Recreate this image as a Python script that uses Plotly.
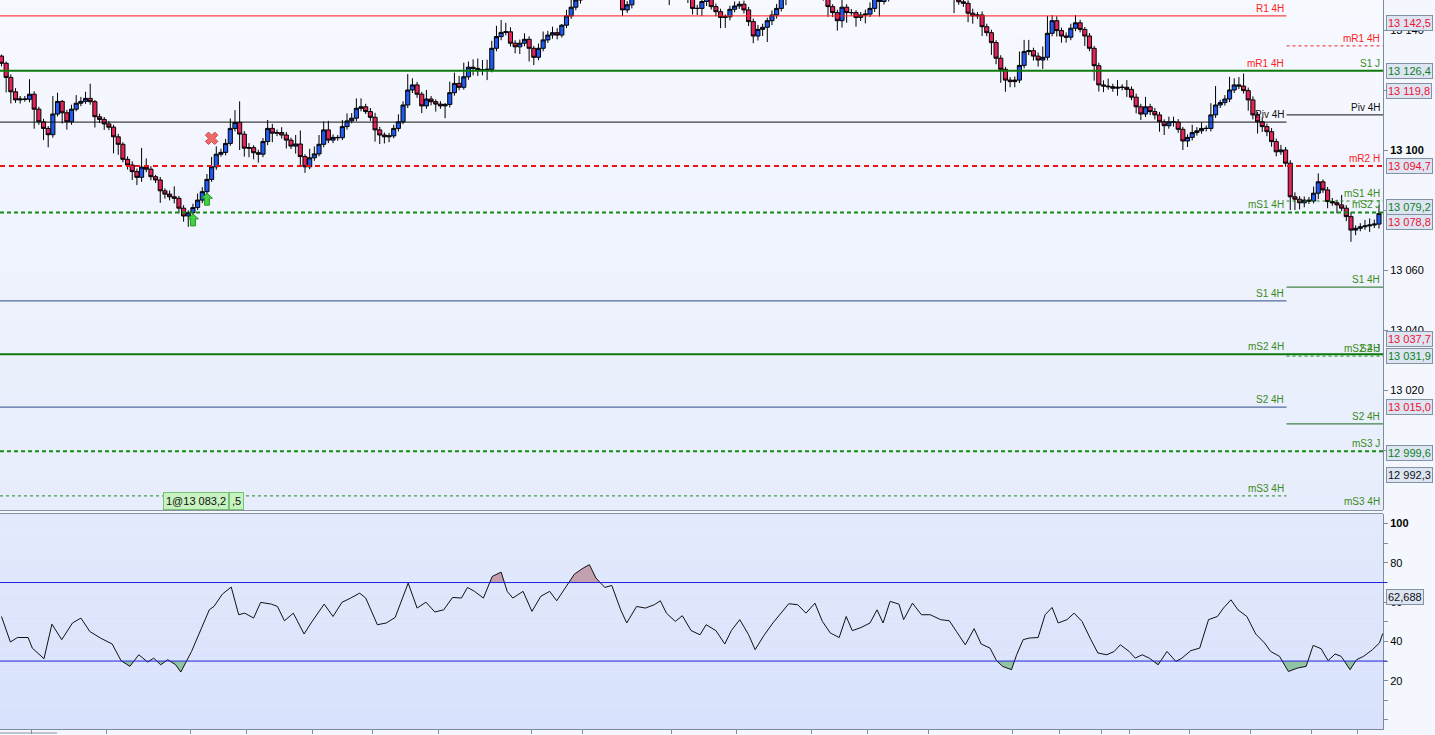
import plotly.graph_objects as go

# ---------------- DATA ----------------
first_open = 13131.3
close = [
    # c0-c50
    13128.9, 13124.2, 13119.4, 13116.7, 13117.0, 13116.9, 13118.6, 13113.6, 13109.4, 13107.2,
    13105.1, 13112.0, 13116.2, 13112.4, 13109.4, 13113.6, 13115.6, 13116.2, 13117.2, 13116.1,
    13111.1, 13110.2, 13108.7, 13107.6, 13104.4, 13101.9, 13096.9, 13095.0, 13092.8, 13090.9,
    13094.3, 13093.6, 13091.1, 13090.0, 13086.4, 13085.3, 13084.4, 13083.9, 13080.6, 13078.0,
    13079.1, 13080.8, 13083.3, 13086.1, 13090.2, 13094.4, 13098.6, 13099.2, 13102.2, 13107.2,
    13109.2,
    # c51-c124
    13105.3, 13100.6, 13100.8, 13099.1, 13098.6, 13102.8, 13107.2, 13105.6, 13105.8, 13105.0,
    13103.3, 13101.3, 13102.0, 13097.8, 13094.4, 13097.4, 13098.7, 13101.9, 13106.7, 13103.3,
    13104.2, 13104.1, 13107.8, 13109.7, 13110.6, 13113.9, 13114.4, 13112.8, 13110.9, 13106.7,
    13105.0, 13104.4, 13104.7, 13107.2, 13109.4, 13115.0, 13120.0, 13121.7, 13118.6, 13114.7,
    13117.0, 13116.1, 13115.3, 13114.7, 13115.2, 13119.1, 13122.2, 13120.9, 13124.4, 13127.6,
    13127.2, 13126.7, 13126.7, 13126.9, 13133.9, 13137.8, 13139.2, 13139.4, 13135.6, 13134.4,
    13135.6, 13136.9, 13133.9, 13130.9, 13133.9, 13136.7, 13138.3, 13139.1, 13138.3, 13141.6,
    13144.7, 13147.6, 13150.0, 13151.0,
    # c125-c147
    13153.0, 13155.5, 13157.0, 13156.0, 13158.0, 13157.0, 13155.0, 13152.5, 13146.7, 13148.4,
    13151.5, 13154.0, 13155.5, 13156.5, 13157.0, 13156.0, 13155.0, 13153.0, 13152.0, 13153.5,
    13154.5, 13153.0, 13150.5,
    # c148-c167
    13147.2, 13147.2, 13149.5, 13150.5, 13147.8, 13146.1, 13144.2, 13144.4, 13146.9, 13148.0,
    13148.6, 13146.7, 13142.8, 13138.0, 13140.2, 13140.9, 13143.1, 13145.0, 13147.2, 13151.0,
    # c168-c176
    13152.0, 13153.5, 13155.0, 13156.0, 13155.5, 13156.5, 13155.0, 13153.0, 13151.0,
    # c177-c190
    13147.8, 13145.8, 13143.1, 13147.6, 13145.8, 13145.8, 13144.2, 13145.0, 13145.3, 13147.2,
    13151.0, 13149.5, 13150.5, 13152.5,
    # c191-c203
    13154.0, 13155.5, 13156.5, 13155.0, 13156.0, 13157.5, 13157.0, 13156.0, 13155.0, 13154.0,
    13154.5, 13153.0, 13152.0,
    # c204-c206
    13151.5, 13149.4, 13148.9,
    # c207-c267
    13145.6, 13144.7, 13145.0, 13141.1, 13139.1, 13135.8, 13130.6, 13126.9, 13123.3, 13122.8,
    13123.3, 13128.2, 13132.8, 13133.1, 13131.3, 13130.0, 13130.9, 13138.9, 13143.1, 13139.8,
    13138.0, 13137.6, 13140.6, 13142.4, 13140.2, 13138.0, 13133.9, 13128.1, 13121.7, 13121.3,
    13121.1, 13120.6, 13120.9, 13120.9, 13120.2, 13117.6, 13114.4, 13112.0, 13114.4, 13112.8,
    13111.7, 13109.4, 13108.1, 13109.4, 13109.3, 13106.9, 13103.0, 13104.2, 13105.8, 13106.4,
    13107.2, 13107.2, 13111.7, 13115.0, 13115.8, 13117.0, 13120.0, 13121.7, 13121.3, 13119.8,
    13116.7,
    # c268-c295
    13111.7, 13109.4, 13107.8, 13106.1, 13102.8, 13099.4, 13100.0, 13095.6, 13084.4, 13083.6,
    13082.4, 13083.3, 13083.0, 13085.6, 13089.4, 13086.7, 13082.8, 13082.4, 13081.7, 13080.6,
    13077.8, 13073.3, 13073.9, 13074.4, 13074.7, 13075.0, 13075.3, 13078.8,
]
# upper / lower wick lengths (points) read per candle
up_wick = [
    0.5, 0.6, 1.0, 1.2, 1.0, 1.0, 5.0, 1.0, 0.8, 1.0,
    0.8, 6.0, 2.9, 0.5, 1.0, 1.5, 2.7, 1.5, 2.2, 4.9,
    0.6, 1.0, 0.8, 1.0, 0.8, 1.0, 0.7, 1.0, 1.2, 1.0,
    6.4, 2.9, 1.0, 0.6, 1.0, 0.8, 1.2, 3.5, 0.8, 1.0,
    0.8, 1.3, 2.2, 1.5, 1.8, 3.3, 2.6, 1.2, 1.5, 3.3,
    4.1,
    7.0, 1.0, 1.5, 0.8, 1.0, 1.2, 2.8, 1.5, 1.0, 1.8,
    1.0, 0.8, 3.0, 4.5, 0.8, 3.0, 2.5, 3.1, 2.8, 3.0,
    1.0, 0.8, 2.2, 2.5, 1.7, 3.3, 2.8, 1.0, 1.2, 1.5,
    1.0, 0.8, 1.0, 1.2, 2.5, 1.2, 5.3, 2.2, 1.0, 0.8,
    3.0, 1.0, 0.8, 1.0, 0.5, 3.7, 3.6, 2.5, 4.7, 1.9,
    2.6, 3.3, 3.3, 3.2, 2.5, 3.6, 4.1, 3.0, 1.5, 1.0,
    1.2, 2.0, 1.0, 0.8, 1.6, 2.8, 1.4, 2.0, 1.5, 0.4,
    2.0, 2.5, 2.0, 1.5,
    2.0, 1.5, 1.8, 2.0, 1.5, 1.2, 1.0, 1.5, 1.0, 1.2,
    1.5, 1.2, 2.0, 1.5, 1.8, 1.0, 1.2, 1.5, 1.0, 1.5,
    2.0, 1.2, 1.5,
    1.0, 1.2, 1.5, 1.0, 1.5, 1.0, 1.0, 0.8, 1.2, 1.5,
    1.0, 1.2, 1.0, 1.0, 1.5, 1.2, 1.0, 1.5, 1.5, 1.2,
    1.5, 1.2, 1.8, 1.0, 1.5, 1.2, 1.0, 1.2, 1.0,
    1.0, 0.8, 1.0, 2.5, 1.0, 1.2, 0.8, 1.0, 1.5, 2.0,
    2.5, 1.5, 1.2, 1.5,
    1.5, 1.2, 1.0, 1.5, 1.2, 2.0, 1.0, 1.5, 1.2, 1.0,
    1.5, 1.2, 1.0,
    1.5, 1.2, 1.0,
    1.0, 1.5, 1.0, 1.2, 1.0, 1.0, 0.8, 1.0, 0.8, 1.0,
    1.2, 4.6, 3.9, 3.6, 1.0, 1.2, 3.6, 5.8, 1.9, 1.5,
    1.0, 1.2, 1.5, 2.6, 1.0, 0.8, 1.0, 0.8, 1.0, 1.5,
    2.5, 1.0, 2.4, 1.0, 2.4, 1.0, 1.2, 1.0, 3.3, 1.0,
    1.2, 1.0, 0.8, 1.7, 1.7, 1.0, 0.8, 1.0, 2.6, 1.2,
    2.0, 1.0, 3.9, 6.3, 0.9, 1.3, 4.4, 2.2, 2.6, 4.2,
    1.0,
    1.2, 1.0, 1.5, 1.0, 1.2, 1.0, 1.7, 1.0, 1.0, 1.5,
    1.0, 1.2, 1.0, 2.2, 2.8, 0.8, 1.0, 1.2, 1.0, 3.3,
    1.0, 1.5, 1.0, 1.2, 2.0, 2.2, 1.5, 2.8,
]
low_wick = [
    1.0, 5.0, 3.9, 1.0, 1.2, 0.8, 1.0, 6.5, 1.0, 3.9,
    4.2, 1.0, 0.8, 3.6, 2.6, 1.0, 0.7, 1.0, 0.8, 1.0,
    3.6, 1.2, 2.0, 1.0, 5.5, 3.5, 1.0, 1.5, 2.8, 2.6,
    1.5, 1.0, 1.2, 1.0, 4.0, 1.5, 1.2, 1.7, 1.7, 1.9,
    3.6, 1.0, 0.8, 1.0, 1.0, 0.8, 1.0, 0.8, 1.0, 0.8,
    1.0,
    5.3, 2.8, 3.0, 2.2, 2.8, 1.0, 1.2, 3.0, 1.0, 1.2,
    2.8, 1.0, 2.5, 3.0, 2.0, 0.8, 1.0, 0.8, 1.0, 1.0,
    1.0, 1.0, 0.8, 1.0, 0.8, 1.0, 1.0, 0.8, 1.2, 3.9,
    3.0, 2.2, 1.8, 0.8, 1.0, 0.8, 1.0, 1.0, 1.2, 2.4,
    1.0, 1.2, 2.5, 1.0, 4.1, 1.0, 1.0, 1.0, 0.8, 1.0,
    2.3, 2.0, 1.8, 3.4, 1.0, 1.0, 1.2, 1.0, 1.1, 2.2,
    2.4, 1.0, 4.4, 2.6, 1.0, 1.0, 1.0, 1.2, 1.4, 0.8,
    1.0, 1.0, 1.0, 1.2,
    1.0, 1.2, 1.0, 1.5, 1.0, 1.2, 1.5, 1.0, 2.0, 1.0,
    1.2, 1.0, 1.0, 1.5, 1.2, 1.0, 1.5, 1.2, 3.7, 1.0,
    1.2, 1.5, 1.5,
    2.0, 2.2, 2.5, 1.5, 1.0, 1.5, 3.6, 3.5, 1.2, 1.0,
    1.0, 1.2, 1.5, 2.4, 1.5, 2.2, 4.9, 1.5, 1.2, 1.0,
    2.7, 1.0, 1.2, 1.5, 1.0, 1.2, 1.5, 1.0, 1.2,
    3.4, 1.5, 3.3, 2.3, 3.4, 1.0, 3.1, 1.2, 2.8, 1.0,
    1.2, 5.0, 1.0, 1.0,
    1.0, 1.2, 1.5, 1.0, 1.2, 1.0, 1.5, 1.2, 1.0, 1.2,
    1.0, 1.5, 1.2,
    5.9, 1.0, 1.2,
    3.0, 2.6, 1.0, 3.1, 1.2, 4.1, 2.0, 4.5, 3.9, 1.9,
    1.9, 1.0, 1.0, 1.2, 1.5, 2.2, 3.0, 1.0, 1.0, 2.0,
    2.2, 1.8, 1.0, 1.0, 1.0, 3.3, 1.0, 5.0, 2.2, 2.0,
    1.0, 1.2, 2.5, 1.0, 2.5, 1.0, 2.2, 2.0, 1.0, 1.2,
    1.5, 3.3, 3.1, 1.0, 1.5, 1.2, 3.0, 2.0, 1.0, 1.0,
    1.0, 1.0, 1.0, 1.0, 1.0, 1.0, 1.0, 1.0, 1.0, 1.0,
    3.6,
    1.5, 3.9, 1.8, 1.5, 1.7, 1.5, 1.0, 1.2, 4.4, 3.6,
    2.2, 1.5, 1.0, 0.8, 2.0, 1.0, 2.2, 1.0, 2.8, 1.0,
    1.5, 3.9, 1.7, 1.0, 1.0, 2.0, 1.0, 1.5,
]

# RSI (candle index position, value)
rsi_x = [
    0, 1.9, 3.4, 5.7, 6.6, 9.1, 10.8, 12.9, 15.2, 17.0,
    18.9, 21.2, 23.7, 25.6, 27.5, 29.4, 31.3, 32.6, 34.1, 35.6,
    37.3, 38.4, 40.7, 42.6, 44.5, 45.5, 47.3, 49.2, 50.8, 52.1,
    54.0, 55.5, 57.8, 59.1, 60.6, 62.5, 64.8, 66.3, 69.1, 71.0,
    72.9, 74.8, 76.7, 78.0, 80.5, 82.4, 84.3, 87.1, 89.0, 90.9,
    92.8, 94.7, 96.6, 98.5, 99.8, 101.3, 103.2, 105.1, 107.0, 108.3,
    109.5, 111.7, 113.6, 115.5, 117.4, 118.9, 120.8, 122.7, 124.6, 125.9,
    127.3, 129.2, 130.7, 132.6, 133.9, 136.0, 137.9, 139.8, 141.1, 142.4,
    144.3, 145.8, 147.7, 149.6, 150.9, 153.0, 154.9, 156.3, 158.1, 160.0,
    161.4, 163.3, 165.2, 166.7, 168.6, 170.5, 172.3, 174.2, 175.8, 177.5,
    179.4, 180.9, 182.2, 184.1, 186.0, 187.5, 188.8, 190.3, 192.2, 193.2,
    195.1, 197.0, 198.9, 201.1, 203.0, 204.5, 206.4, 208.3, 209.8, 211.7,
    213.1, 214.4, 216.3, 217.4, 218.8, 220.1, 222.0, 223.5, 225.0, 226.3,
    228.2, 229.7, 231.4, 233.3, 234.8, 236.7, 238.3, 239.6, 241.5, 242.8,
    244.3, 245.8, 247.7, 249.6, 251.5, 252.8, 254.7, 256.6, 258.5, 260.4,
    261.7, 263.3, 264.8, 266.7, 268.6, 270.5, 271.8, 273.7, 275.6, 277.5,
    279.4, 280.9, 282.6, 284.1, 285.6, 286.9, 288.8, 290.2, 291.7, 293.6,
    295.1, 295.8,
]
rsi_v = [
    52.7, 39.7, 42.0, 42.0, 36.6, 31.2, 48.8, 40.9, 49.4, 51.9,
    45.1, 41.7, 38.7, 30.2, 27.3, 33.2, 29.5, 31.5, 28.1, 30.7,
    28.1, 24.4, 34.9, 45.5, 56.1, 57.8, 64.1, 67.7, 53.6, 54.4,
    51.9, 59.9, 59.0, 57.8, 50.5, 54.4, 43.8, 49.4, 59.0, 52.7,
    59.9, 62.1, 64.6, 62.1, 48.5, 49.4, 52.2, 69.7, 57.0, 60.0,
    55.0, 56.1, 62.4, 62.1, 67.5, 65.5, 62.1, 73.1, 75.3, 65.5,
    62.1, 65.5, 55.3, 63.0, 65.5, 60.7, 67.2, 74.3, 77.4, 79.1,
    72.3, 67.5, 68.5, 56.1, 49.4, 57.8, 57.0, 58.7, 60.7, 54.4,
    50.2, 53.1, 45.5, 43.4, 48.5, 45.5, 38.7, 45.5, 51.1, 43.4,
    35.8, 43.1, 49.4, 53.6, 59.2, 58.7, 54.4, 59.5, 50.2, 44.3,
    42.0, 52.7, 45.5, 47.1, 49.4, 56.1, 49.4, 60.4, 59.0, 51.1,
    59.5, 53.6, 53.6, 51.1, 50.5, 45.1, 38.3, 46.5, 38.7, 36.6,
    30.2, 27.3, 25.6, 33.2, 40.9, 41.7, 42.0, 53.6, 57.3, 49.4,
    51.1, 54.4, 50.2, 40.9, 34.1, 33.2, 34.9, 38.3, 34.9, 31.5,
    33.2, 31.5, 28.1, 34.9, 29.8, 31.5, 35.3, 36.6, 51.1, 52.7,
    57.0, 61.2, 56.1, 52.7, 43.8, 39.2, 34.9, 32.4, 24.7, 26.4,
    27.3, 38.0, 36.3, 30.2, 33.6, 32.4, 25.6, 30.7, 32.4, 35.8,
    39.2, 44.0,
]
rsi_upper, rsi_lower = 70, 30
rsi_last_label = "62,688"

# pivot levels
split_idx = 275.2   # where the 4H pivot period changes
full_levels = [  # name, value, kind
    ("S1 J", 13126.4, "green_solid"),
    ("mR2 H", 13094.7, "red_dash"),
    ("mS2 J", 13079.2, "green_dash"),
    ("", 13031.9, "green_solid"),
    ("mS3 J", 12999.6, "green_dash"),
]
left_levels = [
    ("R1 4H", 13144.7, "red_thin"),
    ("mR1 4H", 13126.4, "none"),
    ("Piv 4H", 13109.3, "black_thin"),
    ("mS1 4H", 13079.2, "none"),
    ("S1 4H", 13049.7, "dark_thin"),
    ("mS2 4H", 13031.9, "none"),
    ("S2 4H", 13014.3, "dark_thin"),
    ("mS3 4H", 12984.7, "green_dash_thin"),
]
right_levels = [
    ("mR1 4H", 13134.7, "red_dash_thin"),
    ("Piv 4H", 13111.7, "black_thin"),
    ("mS1 4H", 13083.0, "green_dash_thin"),
    ("S1 4H", 13054.3, "green_thin"),
    ("mS2 4H", 13031.3, "green_dash_thin"),
    ("S2 J", 13031.3, "none"),
    ("S2 4H", 13008.7, "green_thin"),
    ("mS3 4H", 12980.3, "none"),
]
# right axis price tags: value, text, colour key, shift(px)
price_tags = [
    (13142.5, "13 142,5", "red", 0),
    (13126.4, "13 126,4", "green", 0),
    (13119.8, "13 119,8", "red", 0),
    (13094.7, "13 094,7", "red", 0),
    (13079.2, "13 079,2", "green", 5),
    (13078.8, "13 078,8", "red", -8),
    (13037.7, "13 037,7", "red", -2),
    (13031.9, "13 031,9", "green", -2),
    (13015.0, "13 015,0", "red", -2),
    (12999.6, "12 999,6", "green", -2),
    (12992.3, "12 992,3", "black", -2),
]
price_ticks = [13140, 13120, 13100, 13080, 13060, 13040, 13020, 13000]
price_ticktext = ["13 140", "13 120", "<b>13 100</b>", "13 080", "13 060", "13 040", "13 020", "13 000"]
rsi_ticks = [100, 80, 60, 40, 20]
rsi_ticktext = ["<b>100</b>", "80", "60", "40", "20"]
time_ticks = [6.5, 22.5, 40.5, 52.5, 66.5, 79.5, 93.5, 113.5, 124.5, 143.5, 157.5,
              173.5, 185.5, 198.5, 216.5, 226.5, 235.5, 241.5, 254.5, 267.5, 280.5, 290.5]

# signals
buy_idx = [41, 44]
buy_price = [13078.7, 13085.6]
exit_idx = [45]
exit_price = [13103.9]
position_text = "1@13 083,2"
position_text2 = ",5"

# ---------------- BUILD ----------------
n = min(len(close), len(up_wick), len(low_wick))
close = close[:n]
opens = [first_open] + close[:-1]
highs = [max(o, c) + u for o, c, u in zip(opens, close, up_wick)]
lows = [min(o, c) - l for o, c, l in zip(opens, close, low_wick)]
idx = list(range(n))

W, H = 1435, 735
PLOT_W, PLOT_H = 1383, 729
FONT = "Liberation Sans"

def py(px):  # pixel row -> paper y
    return (PLOT_H - px) / PLOT_H

main_dom = [py(510), 1.0]
rsi_dom = [0.0, py(514)]

fig = go.Figure()

fig.add_trace(go.Candlestick(
    x=idx, open=opens, high=highs, low=lows, close=close,
    increasing=dict(fillcolor="#1f5bf0", line=dict(color="#000000", width=1)),
    decreasing=dict(fillcolor="#e3245a", line=dict(color="#000000", width=1)),
    xaxis="x", yaxis="y", hoverinfo="skip", showlegend=False,
))

# RSI fills
def excursions(xs, vs, thr, above):
    out_x, out_y = [], []
    cur = None
    for k in range(len(xs)):
        x, v = xs[k], vs[k]
        ins = (v > thr) if above else (v < thr)
        if k > 0:
            xp, vp = xs[k - 1], vs[k - 1]
            insp = (vp > thr) if above else (vp < thr)
            if ins != insp:
                t = (thr - vp) / (v - vp)
                xc = xp + t * (x - xp)
                if ins:
                    cur = [(xc, thr)]
                else:
                    cur.append((xc, thr))
                    out_x += [p[0] for p in cur] + [None]
                    out_y += [p[1] for p in cur] + [None]
                    cur = None
        if ins:
            if cur is None:
                cur = [(x, thr)]
            cur.append((x, v))
    if cur:
        cur.append((xs[-1], thr))
        out_x += [p[0] for p in cur] + [None]
        out_y += [p[1] for p in cur] + [None]
    return out_x, out_y

ax, ay = excursions(rsi_x, rsi_v, rsi_upper, True)
bx, by = excursions(rsi_x, rsi_v, rsi_lower, False)
fig.add_trace(go.Scatter(x=ax, y=ay, fill="toself", fillcolor="#c2a0ae", line=dict(width=0),
                         mode="lines", xaxis="x2", yaxis="y2", hoverinfo="skip", showlegend=False))
fig.add_trace(go.Scatter(x=bx, y=by, fill="toself", fillcolor="#93c3a6", line=dict(width=0),
                         mode="lines", xaxis="x2", yaxis="y2", hoverinfo="skip", showlegend=False))
fig.add_trace(go.Scatter(x=rsi_x, y=rsi_v, mode="lines", line=dict(color="#111111", width=1),
                         xaxis="x2", yaxis="y2", hoverinfo="skip", showlegend=False))

# exit marker
fig.add_trace(go.Scatter(x=exit_idx, y=exit_price, mode="markers",
                         marker=dict(symbol="x", size=11, color="#f06a6a",
                                     line=dict(color="#d04848", width=1)),
                         xaxis="x", yaxis="y", hoverinfo="skip", showlegend=False))

shapes = []
annotations = []

def stripes(y0px, y1px, ctop, cbot, nstr=30):
    for k in range(nstr):
        t = k / (nstr - 1)
        c = tuple(round(ctop[j] + (cbot[j] - ctop[j]) * t) for j in range(3))
        a = y0px + (y1px - y0px) * k / nstr
        b = y0px + (y1px - y0px) * (k + 1) / nstr
        shapes.append(dict(type="rect", xref="paper", yref="paper", x0=0, x1=1,
                           y0=py(b), y1=py(a), fillcolor="rgb(%d,%d,%d)" % c,
                           line=dict(width=0), layer="below"))

stripes(0, 510, (247, 249, 255), (231, 237, 252))
stripes(514, 729, (226, 233, 252), (216, 226, 252))

styles = {
    "green_solid": dict(color="#0b7a0b", width=2, dash="solid"),
    "green_dash": dict(color="#138a13", width=2, dash="4px,3px"),
    "red_dash": dict(color="#ee1414", width=2, dash="5px,4px"),
    "red_thin": dict(color="#ff1a1a", width=1, dash="solid"),
    "red_dash_thin": dict(color="#ee2020", width=1, dash="3px,3px"),
    "black_thin": dict(color="#111111", width=1, dash="solid"),
    "green_thin": dict(color="#1a6a1a", width=1, dash="solid"),
    "dark_thin": dict(color="#2c4a86", width=1, dash="solid"),
    "green_dash_thin": dict(color="#1f8a1f", width=1, dash="3px,3px"),
}
label_col = {"red": "#ff2020", "green": "#3a8a1a", "black": "#111111"}

def lab_colour(kind, name):
    if kind.startswith("red") or name.startswith("mR") or name.startswith("R"):
        return label_col["red"]
    if kind.startswith("black") or name.startswith("Piv"):
        return label_col["black"]
    return label_col["green"]

x_left = -0.32
x_right = 295.86

for name, val, kind in full_levels:
    st = styles[kind]
    shapes.append(dict(type="line", xref="paper", yref="y", x0=0, x1=1, y0=val, y1=val,
                       line=st))
    if name:
        annotations.append(dict(x=1, xref="paper", y=val, yref="y", text=name,
                                xanchor="right", yanchor="bottom", xshift=-1, showarrow=False,
                                font=dict(family=FONT, size=10, color=lab_colour(kind, name))))

for name, val, kind in left_levels:
    if kind != "none":
        shapes.append(dict(type="line", xref="x", yref="y", x0=x_left, x1=split_idx, y0=val, y1=val,
                           line=styles[kind]))
    annotations.append(dict(x=split_idx, xref="x", y=val, yref="y", text=name,
                            xanchor="right", yanchor="bottom", xshift=-1, showarrow=False,
                            font=dict(family=FONT, size=10, color=lab_colour(kind, name))))

for name, val, kind in right_levels:
    if kind != "none":
        shapes.append(dict(type="line", xref="x", yref="y", x0=split_idx, x1=x_right, y0=val, y1=val,
                           line=styles[kind]))
    annotations.append(dict(x=1, xref="paper", y=val, yref="y", text=name,
                            xanchor="right", yanchor="bottom", xshift=-1, showarrow=False,
                            font=dict(family=FONT, size=10, color=lab_colour(kind, name))))

# RSI bands
for lvl in (rsi_upper, rsi_lower):
    shapes.append(dict(type="line", xref="paper", yref="y2", x0=0, x1=1 + 4 / PLOT_W, y0=lvl, y1=lvl,
                       line=dict(color="#2323d6", width=1)))

# panel separators / borders
for ypx in (510.5, 513.5):
    shapes.append(dict(type="line", xref="paper", yref="paper", x0=0, x1=1, y0=py(ypx), y1=py(ypx),
                       line=dict(color="#8793a4", width=1)))
shapes.append(dict(type="line", xref="paper", yref="paper", x0=0, x1=57 / PLOT_W,
                   y0=py(733), y1=py(733), line=dict(color="#8793a4", width=1)))

# buy arrows (pixel-sized)
arrow_path = "M0,0 L-5.5,-5 L-2.5,-5 L-2.5,-12 L2.5,-12 L2.5,-5 L5.5,-5 Z"
for xi, pv in zip(buy_idx, buy_price):
    shapes.append(dict(type="path", xref="x", yref="y", xsizemode="pixel", ysizemode="pixel",
                       xanchor=xi, yanchor=pv, path=arrow_path,
                       fillcolor="#46d046", line=dict(color="#1e9a1e", width=1)))

# price tags on right axis
tag_col = {"red": "#f01030", "green": "#0f7f1f", "black": "#111111"}
for val, txt, ck, sh in price_tags:
    annotations.append(dict(x=1, xref="paper", y=val, yref="y", text=txt, xanchor="left",
                            yanchor="middle", xshift=3, yshift=sh, showarrow=False,
                            bgcolor="#dde5f3", bordercolor="#8392a3", borderwidth=1, borderpad=1,
                            font=dict(family=FONT, size=11, color=tag_col[ck])))
annotations.append(dict(x=1, xref="paper", y=62.688, yref="y2", text=rsi_last_label, xanchor="left",
                        yanchor="middle", xshift=3, showarrow=False,
                        bgcolor="#dde5f3", bordercolor="#8392a3", borderwidth=1, borderpad=1,
                        font=dict(family=FONT, size=11, color="#111111")))

# position box
annotations.append(dict(x=163 / PLOT_W, xref="paper", y=py(501), yref="paper", text=position_text,
                        xanchor="left", yanchor="middle", showarrow=False,
                        bgcolor="#c8f2c0", bordercolor="#74c274", borderwidth=1, borderpad=2,
                        font=dict(family=FONT, size=11, color="#111111")))
annotations.append(dict(x=229 / PLOT_W, xref="paper", y=py(501), yref="paper", text=position_text2,
                        xanchor="left", yanchor="middle", showarrow=False,
                        bgcolor="#c8f2c0", bordercolor="#74c274", borderwidth=1, borderpad=2,
                        font=dict(family=FONT, size=11, color="#111111")))

axis_col = "#7f8c9c"
fig.update_layout(
    width=W, height=H,
    margin=dict(l=0, r=W - PLOT_W, t=0, b=H - PLOT_H),
    paper_bgcolor="#f4f7fd", plot_bgcolor="#eef2fd",
    showlegend=False, hovermode=False,
    boxgap=0.12, boxgroupgap=0,
    xaxis=dict(domain=[0, 1], range=[x_left, x_right], anchor="y", showticklabels=False,
               showgrid=False, zeroline=False, showline=False, ticks="",
               rangeslider=dict(visible=False), fixedrange=True),
    xaxis2=dict(domain=[0, 1], range=[x_left, x_right], anchor="y2", matches="x",
                showticklabels=False, showgrid=False, zeroline=False, showline=True,
                linecolor=axis_col, linewidth=1, ticks="outside", ticklen=4, tickcolor=axis_col,
                tickvals=time_ticks),
    yaxis=dict(domain=main_dom, range=[12980, 13150], side="right", anchor="x",
               tickvals=price_ticks, ticktext=price_ticktext, ticks="outside", ticklen=4,
               tickcolor=axis_col, showgrid=False, zeroline=False, showline=True,
               linecolor=axis_col, linewidth=1,
               tickfont=dict(family=FONT, size=11, color="#000000")),
    yaxis2=dict(domain=rsi_dom, range=[-4.6, 104.9], side="right", anchor="x2",
                tickvals=rsi_ticks, ticktext=rsi_ticktext, ticks="outside", ticklen=4,
                tickcolor=axis_col, showgrid=False, zeroline=False, showline=True,
                linecolor=axis_col, linewidth=1,
                minor=dict(ticks="outside", ticklen=4, tickcolor=axis_col, dtick=10, tick0=0),
                tickfont=dict(family=FONT, size=11, color="#000000")),
    shapes=shapes, annotations=annotations,
)

fig.write_html("out.html", config={"displayModeBar": False},
               post_script="document.body.style.margin='0px';document.body.style.overflow='hidden';")
